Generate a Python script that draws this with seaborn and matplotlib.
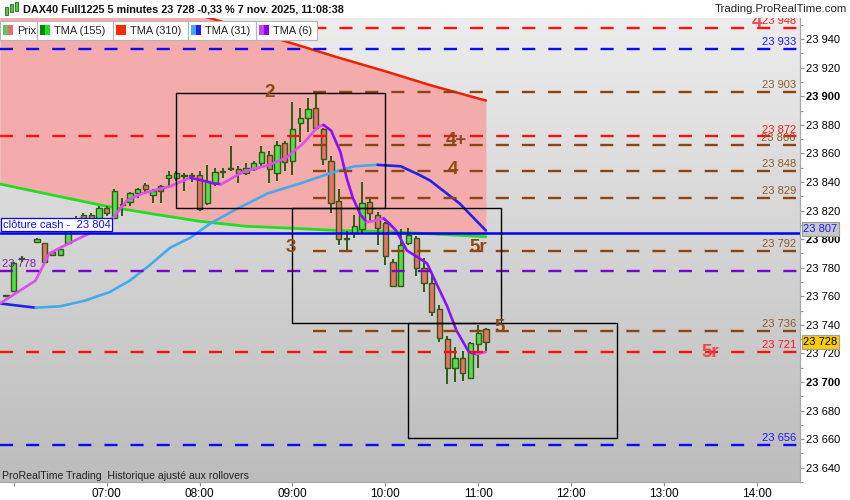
import numpy as np
import matplotlib
matplotlib.use("Agg")
import matplotlib.pyplot as plt
import seaborn as sns
from matplotlib.patches import Rectangle
from matplotlib.colors import LinearSegmentedColormap

sns.set_theme(style="white")
plt.rcParams['font.family'] = ['Liberation Sans', 'DejaVu Sans']
plt.rcParams['lines.scale_dashes'] = False

# ---- values (DAX40, 5 min candles) ----
first_candle = "05:55"
nan = np.nan
opens = [23760, 23764, 23786, nan, 23798, 23797, 23791, 23789, 23797, 23806,
         23817, 23817, 23808, 23822, 23815, 23824, 23826, 23832, 23838, 23831,
         23837, 23843, 23843, 23844, 23844, 23845, 23825, 23839, 23847, 23849,
         23849, 23846, 23849, 23853, 23859, 23846, 23867, 23855, 23881, 23885,
         23892, 23877, 23855, 23827, 23800, 23804, 23807, 23826, 23817, 23811,
         23784, 23767, 23797, 23800.5, 23779.5, 23769, 23751, 23730, 23710, 23717,
         23702.6, 23726.4, 23737]
highs = [23760.5, 23784, 23788, nan, 23801, 23797, 23792, 23794, 23809, 23816,
         23818, 23818, 23823, 23823, 23835, 23829, 23833, 23836, 23839.5, 23835,
         23838, 23848, 23848, 23846, 23846, 23848, 23852, 23850, 23849.5, 23865,
         23851, 23853, 23855, 23865, 23862, 23869, 23869, 23896, 23892, 23899,
         23903, 23877.5, 23858, 23835, 23806, 23817, 23840, 23828, 23819, 23812,
         23786, 23807, 23808, 23802, 23787, 23775, 23754, 23732, 23724.5, 23721.7,
         23728, 23740, 23738]
lows = [23759.5, 23763, 23784, nan, 23798, 23783, 23788, 23789, 23797, 23805,
        23810, 23807, 23807, 23816, 23814, 23816, 23823, 23829, 23832, 23825,
        23825, 23836, 23841, 23834, 23840, 23820, 23824, 23837, 23843, 23847.5,
        23839, 23845, 23848, 23851, 23839, 23841, 23848, 23845, 23868, 23875,
        23877, 23852, 23818, 23796, 23791, 23801, 23804, 23813, 23796, 23782,
        23767, 23766.5, 23796, 23774, 23763, 23746, 23728, 23698.5, 23700, 23701,
        23702, 23710, 23721.7]
closes = [23760, 23783, 23786, nan, 23800, 23784, 23789, 23793, 23808, 23813,
          23813, 23809, 23822, 23818, 23834, 23824.5, 23832, 23835, 23835, 23834,
          23834, 23845, 23846, 23845, 23844.5, 23821, 23841, 23847, 23847.5, 23849.5,
          23846, 23850, 23853, 23861, 23849, 23866, 23854, 23877, 23885, 23891,
          23878, 23856, 23825, 23800, 23801, 23809, 23825, 23818, 23807.5, 23788,
          23767.5, 23796, 23803, 23779.5, 23769.5, 23749, 23730.5, 23710, 23716.6, 23706.5,
          23727.5, 23734.5, 23728]

slow_times = ["05:51", "06:30", "07:00", "07:30", "08:00", "08:30", "09:00",
              "09:30", "10:00", "10:30", "11:05"]
tma155 = [23838.6, 23829.7, 23823, 23817.6, 23812.5, 23809, 23807.6, 23806,
          23805.3, 23803.7, 23801.7]
tma310 = [23998, 23986, 23977, 23967, 23957, 23947, 23937, 23927, 23917.5,
          23907.5, 23897]

tma31_times = ["05:51", "06:14", "06:30", "06:46", "07:02", "07:15", "07:28",
               "07:41", "07:54", "08:07", "08:22", "08:44", "09:05", "09:24",
               "09:40", "09:55", "10:10", "10:22", "10:29", "10:48", "11:05"]
tma31 = [23755, 23752, 23753, 23757, 23763, 23771, 23782, 23794, 23801, 23811,
         23820, 23832, 23839, 23846, 23851, 23852, 23851, 23845, 23841, 23825, 23806]

tma6_times = ["05:51", "06:04", "06:14", "06:23", "06:30", "06:43", "06:51",
              "07:02", "07:13", "07:23", "07:41", "07:54", "08:02", "08:09",
              "08:14", "08:28", "08:45", "08:56", "09:07", "09:16", "09:20",
              "09:25", "09:31", "09:35", "09:39", "09:44", "09:48", "09:54",
              "09:59", "10:03", "10:07", "10:14", "10:20", "10:27", "10:33",
              "10:40", "10:46", "10:54", "10:59", "11:05"]
tma6 = [23755, 23764, 23771, 23790, 23794, 23801, 23805, 23812, 23827, 23832,
        23837, 23843, 23841, 23839, 23838.5, 23847, 23852, 23857, 23867, 23878,
        23880, 23876, 23861, 23843, 23829, 23817, 23812, 23813, 23814.5, 23810.5,
        23806, 23792, 23788, 23783, 23769, 23753, 23736, 23721, 23719.5, 23721]

red_levels = [23948, 23872, 23721]
blue_levels = [23933, 23656]
brown_levels = [23903, 23866, 23848, 23829, 23792, 23736]
brown_from = "09:13"
purple_level = 23778
cash_close = 23804
last_price = 23728
axis_marker = 23807

box_from = ["07:45", "09:00", "10:15"]
box_to = ["10:00", "11:15", "12:30"]
box_low = [23821.5, 23741, 23661]
box_high = [23902, 23821.5, 23741]

wave_text = ["2", "3", "4+", "4", "5r", "5"]
wave_time = ["08:45", "08:59", "10:46", "10:44", "11:00", "11:14"]
wave_price = [23903, 23794, 23869, 23849, 23794, 23738.5]
red_text = ["5r", "4"]
red_text_time = ["13:30", "14:00"]
red_text_price = [23721, 23952]

legend_names = ["Prix", "TMA (155)", "TMA (310)", "TMA (31)", "TMA (6)"]
hour_labels = ["", "07:00", "08:00", "09:00", "10:00", "11:00", "12:00", "13:00", "14:00"]


def to_min(s):
    return int(s[:2]) * 60 + int(s[3:])


def fmt_price(v):
    v = int(round(v))
    return f"{v // 1000} {v % 1000:03d}"


BROWN = '#8b4513'
W, H = 850, 500
fig = plt.figure(figsize=(8.5, 5), dpi=100)
fig.patch.set_facecolor('white')
ax = fig.add_axes([0, 18 / H, 800 / W, 464 / H])
XMIN, XMAX = 351.06, 867.96
YMIN, YMAX = 23630.0, 23954.8

# grey gradient background
bg = LinearSegmentedColormap.from_list('bg', ['#ececec', '#bcbcbc'])
ax.imshow(np.linspace(0, 1, 256).reshape(-1, 1), cmap=bg, extent=(0, 1, 0, 1),
          transform=ax.transAxes, aspect='auto', zorder=0)

# zone between the two long averages
st = np.array([to_min(s) for s in slow_times])
ax.fill_between(st, tma155, tma310, color='#f4abab', lw=0, zorder=1)
sns.lineplot(x=st, y=tma310, color='#ee2200', linewidth=1.8, ax=ax,
             estimator=None, sort=False, legend=False, zorder=3)
sns.lineplot(x=st, y=tma155, color='#22dd22', linewidth=2.0, ax=ax,
             estimator=None, sort=False, legend=False, zorder=3)

# candles
o, h, l, c = (np.array(a, dtype=float) for a in (opens, highs, lows, closes))
ct = to_min(first_candle) + 5 * np.arange(len(o))
ok = ~np.isnan(o)
up = c >= o
ax.vlines(ct[ok], l[ok], h[ok], color='#2e5c14', lw=1.4, zorder=4)
ax.bar(ct[ok], np.maximum(np.abs(c - o), 0.6)[ok], bottom=np.minimum(o, c)[ok],
       width=3.4, color=np.where(up, '#55dd4c', '#e8726a')[ok],
       edgecolor='#2e5c14', linewidth=1.0, zorder=4.5)


def two_tone(times, vals, up_col, down_col):
    x = np.array([to_min(s) for s in times])
    y = np.array(vals, dtype=float)
    d = np.diff(y) >= 0
    start = 0
    for k in range(1, len(d) + 1):
        if k == len(d) or d[k] != d[start]:
            seg = slice(start, k + 1)
            sns.lineplot(x=x[seg], y=y[seg], color=up_col if d[start] else down_col,
                         linewidth=1.9, ax=ax, estimator=None, sort=False,
                         legend=False, zorder=5)
            start = k


two_tone(tma31_times, tma31, '#44aaee', '#2222ee')
two_tone(tma6_times, tma6, '#dd4fee', '#8a10ff')

# horizontal levels
dash = (0, (9.4, 9.4))
for p in red_levels:
    ax.axhline(p, color='#ff1010', lw=1.7, ls=dash, zorder=6)
for p in blue_levels:
    ax.axhline(p, color='#0a0aff', lw=1.7, ls=dash, zorder=6)
ax.hlines(brown_levels, to_min(brown_from), XMAX, color=BROWN, lw=1.7,
          linestyles=[dash], zorder=6)
ax.axhline(purple_level, color='#7a00cc', lw=1.7, ls=dash, zorder=6)
ax.axhline(cash_close, color='#0000ee', lw=1.8, zorder=6)


def level_label(p, col):
    ax.annotate(fmt_price(p), xy=(1, p), xycoords=('axes fraction', 'data'),
                xytext=(-3, 1.2), textcoords='offset points', ha='right',
                va='bottom', fontsize=8, color=col, zorder=7, clip_on=True)


for p in red_levels:
    level_label(p, '#ff1a1a')
for p in blue_levels:
    level_label(p, '#1a1aff')
for p in brown_levels:
    level_label(p, '#8b5a2b')
ax.annotate(fmt_price(purple_level), xy=(0, purple_level),
            xycoords=('axes fraction', 'data'), xytext=(1.5, 1.2),
            textcoords='offset points', ha='left', va='bottom', fontsize=8,
            color='#7a1fb0', zorder=7)
ax.annotate(f"clôture cash -  {fmt_price(cash_close)}", xy=(0, cash_close),
            xycoords=('axes fraction', 'data'), xytext=(2.2, 2.6),
            textcoords='offset points', ha='left', va='bottom', fontsize=8,
            color='#1010ee', zorder=8,
            bbox=dict(boxstyle='square,pad=0.15', fc='white', ec='#0000ee', lw=0.9))

# wave boxes
for a, b, lo, hi in zip(box_from, box_to, box_low, box_high):
    ax.add_patch(Rectangle((to_min(a), lo), to_min(b) - to_min(a), hi - lo,
                           fill=False, ec='black', lw=1.0, zorder=6))

for s, t, p in zip(wave_text, wave_time, wave_price):
    ax.text(to_min(t), p, s, ha='center', va='center', fontsize=13.5,
            fontweight='bold', color='#8b4a12', zorder=7)
for s, t, p in zip(red_text, red_text_time, red_text_price):
    ax.text(to_min(t), p, s, ha='center', va='center', fontsize=13.5,
            fontweight='bold', color='#ee3b3b', alpha=0.9, zorder=7, clip_on=True)

ax.text(0.003, 0.013, "ProRealTime Trading  Historique ajusté aux rollovers",
        transform=ax.transAxes, fontsize=7.6, color='#222222', va='center', zorder=7)

# axes
ax.set_xlim(XMIN, XMAX)
ax.set_ylim(YMIN, YMAX)
ax.yaxis.tick_right()
yt = np.arange(23640, 23941, 20)
ax.set_yticks(yt)
ax.set_yticklabels([fmt_price(v) for v in yt])
for lab, v in zip(ax.get_yticklabels(), yt):
    if v % 100 == 0:
        lab.set_fontweight('bold')
        lab.set_fontsize(8.6)
ax.set_yticks(np.arange(23630, 23955, 10), minor=True)
ax.set_xticks(np.arange(360, 841, 60))
ax.set_xticklabels(hour_labels)
ax.tick_params(axis='y', which='major', length=3, width=0.8, color='#909090',
               pad=1.5, labelsize=8, labelcolor='black', right=True, left=False)
ax.tick_params(axis='y', which='minor', length=2, width=0.8, color='#909090',
               right=True, left=False)
ax.tick_params(axis='x', length=3, width=0.8, color='#909090', pad=1.5,
               labelsize=8.5, labelcolor='black', bottom=True)
for side in ('left', 'top'):
    ax.spines[side].set_visible(False)
for side in ('right', 'bottom'):
    ax.spines[side].set_color('#a8a8a8')
    ax.spines[side].set_linewidth(0.9)
ax.grid(False)

ax.annotate(fmt_price(axis_marker), xy=(1, axis_marker), xycoords=('axes fraction', 'data'),
            xytext=(2.5, 0), textcoords='offset points', ha='left', va='center',
            fontsize=8, color='#1a1aff', annotation_clip=False, zorder=9,
            bbox=dict(boxstyle='square,pad=0.15', fc='#c8c8c8', ec='#9a9a9a', lw=0.8))
ax.annotate(fmt_price(last_price), xy=(1, last_price), xycoords=('axes fraction', 'data'),
            xytext=(2.5, 0), textcoords='offset points', ha='left', va='center',
            fontsize=8, color='black', annotation_clip=False, zorder=9,
            bbox=dict(boxstyle='square,pad=0.15', fc='#ffcc00', ec='#a0a0a0', lw=0.8))

# header
fig.text(23 / W, 1 - 10 / H,
         "DAX40 Full1225 5 minutes 23 728 -0,33 % 7 nov. 2025, 11:08:38",
         fontsize=7.8, fontweight='bold', color='#111111', ha='left', va='center')
fig.text(847 / W, 1 - 9 / H, "Trading.ProRealTime.com", fontsize=8.2,
         color='#222222', ha='right', va='center')
for x0, y0, hh in [(5, 7, 8), (10, 4, 8), (15, 2, 9)]:
    fig.add_artist(Rectangle((x0 / W, 1 - (y0 + hh) / H), 3 / W, hh / H,
                             transform=fig.transFigure, fc='#55cc44', ec='#2e5c14', lw=0.6))

# legend bar
edges = [0, 37, 113, 188, 256, 317]
swatches = [('#5dc75d', '#e86c6c'), ('#008800', '#22dd22'), ('#ff2a00', '#ff2a00'),
            ('#3fa9f5', '#2020ff'), ('#cc44ee', '#8a00ff')]
for k, name in enumerate(legend_names):
    x0, x1 = edges[k], edges[k + 1]
    fig.add_artist(Rectangle((x0 / W, 1 - 39.5 / H), (x1 - x0) / W, 18 / H,
                             transform=fig.transFigure, fc='white', ec='#b4b4b4', lw=0.8))
    cl, cr = swatches[k]
    fig.add_artist(Rectangle(((x0 + 3) / W, 1 - 35 / H), 5 / W, 10 / H,
                             transform=fig.transFigure, fc=cl, ec='none'))
    fig.add_artist(Rectangle(((x0 + 8) / W, 1 - 35 / H), 5 / W, 10 / H,
                             transform=fig.transFigure, fc=cr, ec='none'))
    fig.text((x0 + 17) / W, 1 - 30.5 / H, name, fontsize=7.9, color='#222222',
             ha='left', va='center')

fig.savefig("out.png", dpi=100)
